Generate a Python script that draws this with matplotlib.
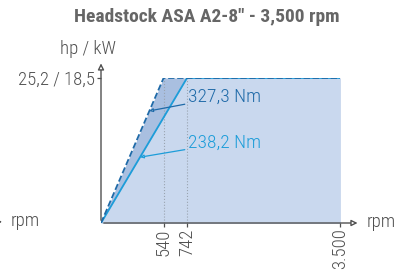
import numpy as np
import matplotlib
matplotlib.use("Agg")
import matplotlib.pyplot as plt
from matplotlib.patches import FancyArrowPatch
from matplotlib.ticker import NullLocator

# data
rpm_s6 = [0, 540, 3500]        # dashed curve (327,3 Nm)
kw_s6 = [0, 18.5, 18.5]
rpm_s1 = [0, 742, 3500]        # solid curve (238,2 Nm)
kw_s1 = [0, 18.5, 18.5]
x_ticks = [540, 742, 3500]
x_tick_labels = ["540", "742", "3.500"]
y_ticks = [18.5]
y_tick_labels = ["25,2 / 18,5"]
torque_labels = ["327,3 Nm", "238,2 Nm"]

plt.rcParams['font.family'] = ['Roboto Condensed', 'DejaVu Sans']
plt.rcParams['font.weight'] = 300

GREY = '#505050'
DARK = '#1f6aa8'
CYAN = '#1d9dd9'

fig = plt.figure(figsize=(4.07, 2.79), dpi=100)
ax = fig.add_axes([101/407, 56/279, 239/407, 145/279])

# the chart squeezes the rpm axis above 742
def fwd(x):
    x = np.asarray(x, dtype=float)
    return np.where(x <= 742, x, 742 + (x - 742) * (1320 / 2758))

def inv(x):
    x = np.asarray(x, dtype=float)
    return np.where(x <= 742, x, 742 + (x - 742) * (2758 / 1320))

ax.set_xscale('function', functions=(fwd, inv))
ax.set_xlim(0, 3500)
ax.set_ylim(0, 18.5)

ax.fill_between(rpm_s6, kw_s6, color='#a9bfe0', lw=0)
ax.fill_between(rpm_s1, kw_s1, color='#c9d8ee', lw=0)
for r in x_ticks[:2]:
    ax.plot([r, r], [0, 18.5], color='#9aa4b0', lw=0.8, ls=':')
ax.plot(rpm_s1, kw_s1, color=CYAN, lw=1.3)
ax.plot(rpm_s6, kw_s6, color=DARK, lw=1.3, ls=(0, (3.5, 1.5)))

for sp in ax.spines.values():
    sp.set_visible(False)

ax.set_xticks(x_ticks)
ax.set_xticklabels(x_tick_labels, rotation=90, fontsize=13.5, color=GREY)
ax.set_yticks(y_ticks)
ax.set_yticklabels(y_tick_labels, fontsize=13.5, color=GREY)
ax.tick_params(colors=GREY, length=3, width=0.9, pad=1)
ax.xaxis.set_minor_locator(NullLocator())

# axis arrows
ax.annotate('', xy=(1.085, 0), xytext=(0, 0), xycoords='axes fraction',
            arrowprops=dict(arrowstyle='-|>', color=GREY, fc='white', lw=1.0, mutation_scale=9))
ax.annotate('', xy=(0, 1.12), xytext=(0, 0), xycoords='axes fraction',
            arrowprops=dict(arrowstyle='-|>', color=GREY, fc='white', lw=1.0, mutation_scale=9))
ax.text(1.11, 0.01, 'rpm', transform=ax.transAxes, fontsize=13.5, color=GREY, va='center', ha='left')
ax.text(-0.055, 1.2, 'hp / kW', transform=ax.transAxes, fontsize=13.5, color=GREY, va='center', ha='center')

# torque callouts
ax.annotate(torque_labels[0], xy=(417, 14.3), xytext=(752, 16.1), color=DARK, fontsize=14,
            va='center', ha='left',
            arrowprops=dict(arrowstyle='-|>', color=DARK, fc='white', lw=0.9, mutation_scale=5,
                            shrinkA=0, shrinkB=0))
ax.annotate(torque_labels[1], xy=(338, 8.4), xytext=(752, 10.2), color=CYAN, fontsize=14,
            va='center', ha='left',
            arrowprops=dict(arrowstyle='-|>', color=CYAN, fc='white', lw=0.9, mutation_scale=5,
                            shrinkA=0, shrinkB=0))

# leftover axis tail of the neighbouring chart
fig.text(0.027, 0.207, 'rpm', fontsize=13.5, color=GREY, va='center', ha='left')
fig.patches.append(FancyArrowPatch((-0.02, 0.205), (0.012, 0.205),
                   transform=fig.transFigure, arrowstyle='-|>', color=GREY, fc='white',
                   lw=1.0, mutation_scale=9))

fig.text(0.509, 0.94, 'Headstock ASA A2-8" - 3,500 rpm', fontsize=14, fontweight='bold',
         color='#666666', ha='center', va='center')

fig.savefig('out.png', dpi=100)
